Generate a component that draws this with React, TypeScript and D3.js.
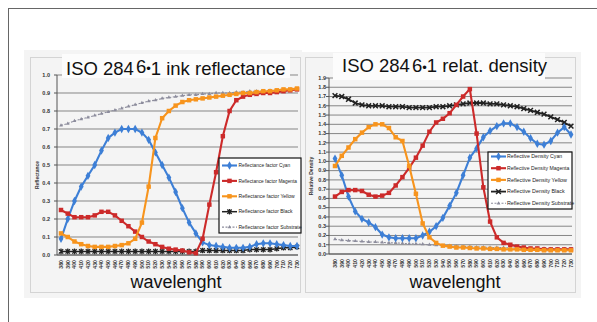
import { useEffect, useRef } from 'react'
import * as d3 from 'd3'

const WAVELENGTHS = [380, 390, 400, 410, 420, 430, 440, 450, 460, 470, 480, 490, 500, 510, 520, 530, 540, 550, 560, 570, 580, 590, 600, 610, 620, 630, 640, 650, 660, 670, 680, 690, 700, 710, 720, 730]

// ISO 2846-1 ink reflectance factor
const REFL_CYAN = [0.09, 0.2, 0.3, 0.38, 0.44, 0.5, 0.58, 0.65, 0.68, 0.7, 0.7, 0.7, 0.68, 0.64, 0.57, 0.5, 0.43, 0.35, 0.26, 0.18, 0.12, 0.07, 0.055, 0.05, 0.045, 0.04, 0.04, 0.04, 0.045, 0.06, 0.065, 0.065, 0.06, 0.055, 0.05, 0.05]
const REFL_MAGENTA = [0.25, 0.23, 0.21, 0.21, 0.21, 0.22, 0.24, 0.24, 0.22, 0.19, 0.16, 0.13, 0.1, 0.075, 0.06, 0.045, 0.035, 0.03, 0.025, 0.015, 0.01, 0.09, 0.28, 0.46, 0.66, 0.8, 0.86, 0.88, 0.89, 0.895, 0.9, 0.9, 0.905, 0.91, 0.915, 0.92]
const REFL_YELLOW = [0.12, 0.1, 0.075, 0.06, 0.05, 0.045, 0.045, 0.045, 0.05, 0.055, 0.065, 0.09, 0.18, 0.38, 0.65, 0.76, 0.8, 0.83, 0.85, 0.86, 0.865, 0.87, 0.875, 0.88, 0.885, 0.89, 0.895, 0.9, 0.9, 0.905, 0.91, 0.91, 0.915, 0.92, 0.92, 0.925]
const REFL_BLACK = [0.02, 0.02, 0.02, 0.02, 0.02, 0.02, 0.02, 0.02, 0.02, 0.02, 0.02, 0.02, 0.02, 0.02, 0.02, 0.02, 0.02, 0.02, 0.02, 0.02, 0.02, 0.025, 0.025, 0.025, 0.025, 0.025, 0.025, 0.025, 0.03, 0.03, 0.03, 0.03, 0.035, 0.04, 0.04, 0.045]
const REFL_SUBSTRATE = [0.72, 0.73, 0.745, 0.755, 0.765, 0.775, 0.785, 0.795, 0.805, 0.815, 0.825, 0.835, 0.845, 0.855, 0.86, 0.87, 0.875, 0.88, 0.885, 0.89, 0.89, 0.895, 0.895, 0.9, 0.9, 0.9, 0.905, 0.905, 0.91, 0.91, 0.91, 0.915, 0.915, 0.915, 0.92, 0.92]

// relative density
const DENS_CYAN = [1.03, 0.85, 0.62, 0.46, 0.38, 0.34, 0.29, 0.21, 0.18, 0.17, 0.17, 0.17, 0.17, 0.2, 0.24, 0.3, 0.39, 0.52, 0.66, 0.85, 1.04, 1.14, 1.26, 1.33, 1.38, 1.41, 1.41, 1.37, 1.32, 1.25, 1.19, 1.18, 1.22, 1.31, 1.37, 1.29]
const DENS_MAGENTA = [0.62, 0.67, 0.69, 0.69, 0.68, 0.64, 0.62, 0.63, 0.66, 0.74, 0.83, 0.93, 1.04, 1.17, 1.32, 1.42, 1.46, 1.52, 1.61, 1.7, 1.78, 1.3, 0.72, 0.35, 0.18, 0.12, 0.1, 0.08, 0.07, 0.06, 0.06, 0.05, 0.05, 0.05, 0.05, 0.05]
const DENS_YELLOW = [0.95, 1.06, 1.15, 1.24, 1.31, 1.37, 1.4, 1.4, 1.36, 1.26, 1.22, 0.95, 0.65, 0.33, 0.18, 0.12, 0.09, 0.08, 0.07, 0.07, 0.065, 0.06, 0.06, 0.055, 0.055, 0.05, 0.05, 0.05, 0.045, 0.045, 0.045, 0.04, 0.04, 0.04, 0.04, 0.04]
const DENS_BLACK = [1.71, 1.7, 1.67, 1.63, 1.61, 1.6, 1.6, 1.6, 1.59, 1.59, 1.59, 1.58, 1.58, 1.58, 1.58, 1.59, 1.59, 1.6, 1.61, 1.62, 1.63, 1.63, 1.63, 1.62, 1.62, 1.61, 1.6, 1.59, 1.57, 1.55, 1.53, 1.51, 1.48, 1.45, 1.42, 1.38]
const DENS_SUBSTRATE = [0.16, 0.15, 0.145, 0.14, 0.135, 0.13, 0.13, 0.125, 0.12, 0.12, 0.115, 0.11, 0.11, 0.105, 0.1, 0.095, 0.09, 0.09, 0.085, 0.08, 0.08, 0.075, 0.075, 0.07, 0.07, 0.07, 0.065, 0.065, 0.06, 0.06, 0.06, 0.06, 0.055, 0.055, 0.055, 0.055]

const REFL_TICKS = [0, 0.1, 0.2, 0.3, 0.4, 0.5, 0.6, 0.7, 0.8, 0.9, 1.0]
const DENS_TICKS = [0, 0.1, 0.2, 0.3, 0.4, 0.5, 0.6, 0.7, 0.8, 0.9, 1.0, 1.1, 1.2, 1.3, 1.4, 1.5, 1.6, 1.7, 1.8, 1.9]

const REFL_LABELS = ['Reflectance factor Cyan', 'Reflectance factor Magenta', 'Reflectance factor Yellow', 'Reflectance factor Black', 'Reflectance factor Substrate']
const DENS_LABELS = ['Reflective Density Cyan', 'Reflective Density Magenta', 'Reflective Density Yellow', 'Reflective Density Black', 'Reflective Density Substrate']

type Marker = 'diamond' | 'square' | 'star' | 'cross' | 'tri'
interface Style { color: string; marker: Marker; dash?: string; width: number }

const STYLE_CYAN: Style = { color: '#3d7fd6', marker: 'diamond', width: 2.1 }
const STYLE_MAGENTA: Style = { color: '#cc2a2a', marker: 'square', width: 2.1 }
const STYLE_YELLOW: Style = { color: '#f7941d', marker: 'square', width: 2.1 }
const STYLE_SUB: Style = { color: '#8c8c9c', marker: 'tri', dash: '2,1.5', width: 1.1 }

interface ChartCfg {
  x0: number; x1: number; gx0: number; gx1: number
  yTop: number; yBot: number; yMax: number; ticks: number[]
  yLabelX: number; axisTitle: string; axisTitleX: number
  series: { values: number[]; style: Style; label: string }[]
  legend: { x: number; y: number; w: number; h: number; row: number; first: number; sx0: number; sx1: number; tx: number; charW: number }
  titleBox: [number, number, number, number]
  xTitleX: number
}

function drawMarker(g: d3.Selection<SVGGElement, unknown, null, undefined>, m: Marker, x: number, y: number, color: string) {
  if (m === 'diamond') g.append('path').attr('d', d3.symbol(d3.symbolDiamond, 20)()).attr('transform', `translate(${x},${y})`).attr('fill', color)
  else if (m === 'square') g.append('path').attr('d', d3.symbol(d3.symbolSquare, 20)()).attr('transform', `translate(${x},${y})`).attr('fill', color)
  else if (m === 'tri') g.append('path').attr('d', d3.symbol(d3.symbolTriangle, 6)()).attr('transform', `translate(${x},${y})`).attr('fill', color)
  else if (m === 'star') g.append('path').attr('d', 'M-2.2,-2.2L2.2,2.2M-2.2,2.2L2.2,-2.2M0,-2.8V2.8').attr('transform', `translate(${x},${y})`).attr('stroke', color).attr('stroke-width', 1.3)
  else g.append('path').attr('d', 'M-2.4,-2.4L2.4,2.4M-2.4,2.4L2.4,-2.4').attr('transform', `translate(${x},${y})`).attr('stroke', color).attr('stroke-width', 1.5)
}

function drawChart(svg: d3.Selection<SVGSVGElement, unknown, null, undefined>, c: ChartCfg) {
  const g = svg.append('g')
  const xSc = d3.scalePoint<number>().domain(WAVELENGTHS).range([c.x0, c.x1])
  const ySc = d3.scaleLinear().domain([0, c.yMax]).range([c.yBot, c.yTop])

  c.ticks.forEach((t) => {
    g.append('line').attr('x1', c.gx0).attr('x2', c.gx1).attr('y1', ySc(t)).attr('y2', ySc(t)).attr('stroke', '#858585').attr('stroke-width', 1)
    g.append('line').attr('x1', c.gx0 - 3).attr('x2', c.gx0).attr('y1', ySc(t)).attr('y2', ySc(t)).attr('stroke', '#555')
    g.append('text').attr('x', c.yLabelX).attr('y', ySc(t) + 1.8).attr('text-anchor', 'end').attr('font-size', 5.5).attr('font-weight', 'bold').attr('fill', '#333').text(t.toFixed(1))
  })
  g.append('line').attr('x1', c.gx0).attr('x2', c.gx0).attr('y1', c.yTop).attr('y2', c.yBot).attr('stroke', '#555')
  g.append('line').attr('x1', c.gx0).attr('x2', c.gx1).attr('y1', c.yBot).attr('y2', c.yBot).attr('stroke', '#555')

  WAVELENGTHS.forEach((w) => {
    const x = xSc(w)!
    g.append('text').attr('transform', `translate(${x + 1.8},${c.yBot + 5}) rotate(-90)`).attr('text-anchor', 'end').attr('font-size', 5.2).attr('font-weight', 'bold').attr('fill', '#333').text(String(w))
  })

  g.append('text').attr('transform', `translate(${c.axisTitleX},${(c.yTop + c.yBot) / 2 + 10}) rotate(-90)`).attr('text-anchor', 'middle').attr('font-size', 5).attr('font-weight', 'bold').attr('fill', '#333').text(c.axisTitle)

  // draw order: substrate, black, cyan, magenta, yellow
  const order = [4, 3, 0, 1, 2]
  order.forEach((i) => {
    const s = c.series[i]
    const line = d3.line<number>().x((_, k) => xSc(WAVELENGTHS[k])!).y((v) => ySc(v))
    g.append('path').datum(s.values).attr('d', line).attr('fill', 'none').attr('stroke', s.style.color).attr('stroke-width', s.style.width).attr('stroke-dasharray', s.style.dash ?? null)
    s.values.forEach((v, k) => drawMarker(g, s.style.marker, xSc(WAVELENGTHS[k])!, ySc(v), s.style.color))
  })

  // title box hides the top gridline
  const [bx, by, bw, bh] = c.titleBox
  g.append('rect').attr('x', bx).attr('y', by).attr('width', bw).attr('height', bh).attr('fill', '#fcfcfc')

  const L = c.legend
  g.append('rect').attr('x', L.x).attr('y', L.y).attr('width', L.w).attr('height', L.h).attr('fill', '#fff').attr('stroke', '#111').attr('stroke-width', 1.2)
  c.series.forEach((s, r) => {
    const y = L.first + r * L.row
    g.append('line').attr('x1', L.sx0).attr('x2', L.sx1).attr('y1', y).attr('y2', y).attr('stroke', s.style.color).attr('stroke-width', s.style.width).attr('stroke-dasharray', s.style.dash ?? null)
    drawMarker(g, s.style.marker, (L.sx0 + L.sx1) / 2, y, s.style.color)
    g.append('text').attr('x', L.tx).attr('y', y + 1.7).attr('font-size', 5).attr('fill', '#222').attr('textLength', s.label.length * L.charW).attr('lengthAdjust', 'spacingAndGlyphs').text(s.label)
  })

  g.append('text').attr('x', c.xTitleX).attr('y', 288).attr('text-anchor', 'middle').attr('font-size', 18).attr('fill', '#111').text('wavelenght')
}

export default function App() {
  const svgRef = useRef<SVGSVGElement>(null)

  useEffect(() => {
    const svg = d3.select(svgRef.current!)
    svg.selectAll('*').remove()
    svg.attr('font-family', '"Liberation Sans", Arial, sans-serif')

    svg.append('rect').attr('width', 597).attr('height', 322).attr('fill', '#fff')
    svg.append('rect').attr('x', 8.5).attr('y', 8.5).attr('width', 700).attr('height', 400).attr('fill', 'none').attr('stroke', '#666')

    // panels
    svg.append('rect').attr('x', 24).attr('y', 50).attr('width', 278).attr('height', 248).attr('fill', '#f4f4f4')
    svg.append('rect').attr('x', 299).attr('y', 52).attr('width', 282).attr('height', 246).attr('fill', '#f4f4f4')
    svg.append('rect').attr('x', 30.5).attr('y', 57.5).attr('width', 270).attr('height', 235).attr('fill', 'none').attr('stroke', '#b5b5b5').attr('stroke-dasharray', '1,1')
    svg.append('rect').attr('x', 305.5).attr('y', 57.5).attr('width', 270).attr('height', 235).attr('fill', 'none').attr('stroke', '#b5b5b5').attr('stroke-dasharray', '1,1')

    drawChart(svg, {
      x0: 61, x1: 297, gx0: 57, gx1: 298, yTop: 75, yBot: 255, yMax: 1, ticks: REFL_TICKS,
      yLabelX: 50, axisTitle: 'Reflectance', axisTitleX: 39,
      series: [
        { values: REFL_CYAN, style: STYLE_CYAN, label: REFL_LABELS[0] },
        { values: REFL_MAGENTA, style: STYLE_MAGENTA, label: REFL_LABELS[1] },
        { values: REFL_YELLOW, style: STYLE_YELLOW, label: REFL_LABELS[2] },
        { values: REFL_BLACK, style: { color: '#222', marker: 'star', width: 1.5 }, label: REFL_LABELS[3] },
        { values: REFL_SUBSTRATE, style: STYLE_SUB, label: REFL_LABELS[4] },
      ],
      legend: { x: 219, y: 158, w: 82, h: 75, row: 15.4, first: 165.5, sx0: 222, sx1: 237, tx: 238.5, charW: 2.25 },
      titleBox: [62, 54, 228, 24],
      xTitleX: 176,
    })

    drawChart(svg, {
      x0: 335, x1: 571, gx0: 329, gx1: 572, yTop: 78, yBot: 254, yMax: 1.9, ticks: DENS_TICKS,
      yLabelX: 326, axisTitle: 'Relative Density', axisTitleX: 313,
      series: [
        { values: DENS_CYAN, style: STYLE_CYAN, label: DENS_LABELS[0] },
        { values: DENS_MAGENTA, style: STYLE_MAGENTA, label: DENS_LABELS[1] },
        { values: DENS_YELLOW, style: STYLE_YELLOW, label: DENS_LABELS[2] },
        { values: DENS_BLACK, style: { color: '#222', marker: 'cross', width: 1.8 }, label: DENS_LABELS[3] },
        { values: DENS_SUBSTRATE, style: STYLE_SUB, label: DENS_LABELS[4] },
      ],
      legend: { x: 488, y: 152, w: 84, h: 57, row: 11.7, first: 156.5, sx0: 491, sx1: 506, tx: 507, charW: 2.4 },
      titleBox: [333, 53, 212, 27],
      xTitleX: 455,
    })

    const t1 = svg.append('text').attr('x', 66).attr('y', 75).attr('font-size', 18.5).attr('fill', '#111')
    t1.append('tspan').text('ISO 284')
    t1.append('tspan').attr('dx', 2).attr('dy', -2.5).text('6')
    t1.append('tspan').attr('font-size', 13).text('•')
    t1.append('tspan').attr('dy', 2.5).text('1 ink reflectance')

    const t2 = svg.append('text').attr('x', 342).attr('y', 72).attr('font-size', 18.5).attr('fill', '#111')
    t2.append('tspan').text('ISO 284')
    t2.append('tspan').attr('dx', 2).text('6')
    t2.append('tspan').attr('font-size', 13).text('•')
    t2.append('tspan').text('1 relat. density')
  }, [])

  return (
    <div style={{ position: 'fixed', left: 0, top: 0 }}>
      <svg ref={svgRef} width={597} height={322} style={{ display: 'block' }} />
    </div>
  )
}
